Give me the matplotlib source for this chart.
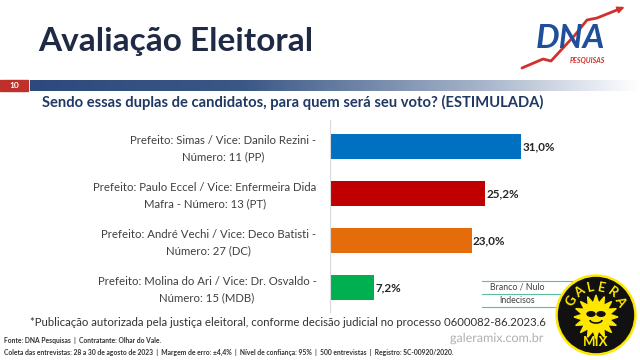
import numpy as np
import matplotlib.pyplot as plt
from matplotlib.colors import LinearSegmentedColormap
from matplotlib.patches import Circle, Polygon, Ellipse, Rectangle, Arc
import matplotlib.patheffects as pe

plt.rcParams['font.family'] = ['Lato', 'DejaVu Sans']

# data
labels = ["Prefeito: Simas / Vice: Danilo Rezini -\nNúmero: 11 (PP)",
          "Prefeito: Paulo Eccel / Vice: Enfermeira Dida\nMafra - Número: 13 (PT)",
          "Prefeito: André Vechi / Vice: Deco Batisti -\nNúmero: 27 (DC)",
          "Prefeito: Molina do Ari / Vice: Dr. Osvaldo -\nNúmero: 15 (MDB)"]
values = [31.0, 25.2, 23.0, 7.2]
colors = ["#0070C0", "#C00000", "#E46C0A", "#00B050"]
extra_rows = ["Branco / Nulo", "Indecisos"]

W, H = 640, 360
fig = plt.figure(figsize=(6.4, 3.6), dpi=100)
fig.patch.set_facecolor("white")

# bar chart axes (pixel layout)
ax = fig.add_axes([330 / W, 1 - 312 / H, 310 / W, 192 / H])
ax.patch.set_alpha(0)
y = np.arange(len(values))
ax.barh(y, values, height=0.53, color=colors)
ax.set_xlim(0, 310 / 6.16)
ax.set_ylim(3.52, -0.57)
for s in ["top", "right", "bottom"]:
    ax.spines[s].set_visible(False)
ax.spines["left"].set_color("#D9D9D9")
ax.set_xticks([])
ax.set_yticks([])
for yi, lab in zip(y, labels):
    ax.text(-2.2, yi + 0.04, lab, fontsize=8.2, color="#404040", ha="right", va="center",
            multialignment="center", linespacing=1.6)
for yi, v in zip(y, values):
    ax.text(v + 0.2, yi, f"{v:.1f}%".replace(".", ","), va="center", ha="left",
            fontsize=8.4, fontweight="bold", color="#262626")

# overlay for the slide decorations
ov = fig.add_axes([0, 0, 1, 1], zorder=3)
ov.patch.set_alpha(0)
ov.axis("off")

ov.text(38, 41, "Avaliação Eleitoral", fontsize=24, color="#1F2A44",
        va="center", ha="left", fontweight="bold")

# DNA logo
ov.plot([522, 543, 551, 575, 587, 597, 622], [68, 59, 61, 35, 20, 18, 8],
        color="#D0312D", lw=2.0, solid_capstyle="round", zorder=2)
ov.annotate("", xy=(627, 6), xytext=(615, 11),
            arrowprops=dict(arrowstyle="-|>", color="#D0312D", lw=1.2))
ov.text(570, 38, "DNA", fontsize=24, fontweight="bold", style="italic",
        color="#1F4E9A", va="center", ha="center", zorder=3)
ov.text(605, 60, "PESQUISAS", fontsize=5, fontweight="bold", style="italic",
        color="#D0312D", va="center", ha="right")

# page number box and gradient band
ov.add_patch(Rectangle((0, 80), 28, 11, color="#C0302B"))
ov.text(14, 85.5, "10", fontsize=6, color="white", fontweight="bold", ha="center", va="center")
cmap = LinearSegmentedColormap.from_list("band", [(0, "#2C4A7C"), (0.35, "#3A5886"),
                                                  (0.75, "#A9B6CB"), (1, "#FFFFFF")])
ov.imshow(np.linspace(0, 1, 256)[None, :], cmap=cmap, aspect="auto",
          extent=[30, 640, 91, 80], zorder=1)
ov.set_xlim(0, W)
ov.set_ylim(H, 0)

ov.text(42, 102, "Sendo essas duplas de candidatos, para quem será seu voto? (ESTIMULADA)",
        fontsize=10.6, fontweight="bold", color="#1F3864", va="center", ha="left")

# small table at bottom right
for yy in [281, 294, 307]:
    ov.plot([482, 580], [yy, yy], color="#5BBFA0", lw=0.8)
ov.text(517, 287.5, extra_rows[0], fontsize=6.3, color="#404040", ha="center", va="center")
ov.text(517, 300.5, extra_rows[1], fontsize=6.3, color="#404040", ha="center", va="center")

# footnotes
ov.text(30, 323, "*Publicação autorizada pela justiça eleitoral, conforme decisão judicial no processo 0600082-86.2023.6",
        fontsize=8.2, color="#333333", ha="left", va="center")
ov.text(4, 340, "Fonte: DNA Pesquisas  |  Contratante: Olhar do Vale.",
        fontsize=4.9, fontweight="bold", color="#333333", ha="left", va="center")
ov.text(4, 352, "Coleta das entrevistas: 28 a 30 de agosto de 2023  |  Margem de erro: ±4,4%  |  "
        "Nível de confiança: 95%  |  500 entrevistas  |  Registro: SC-00920/2020.",
        fontsize=4.9, fontweight="bold", color="#333333", ha="left", va="center")
ov.text(497, 338, "galeramix.com.br", fontsize=9, color="#B0B0B0", ha="center", va="center",
        path_effects=[pe.withStroke(linewidth=1.5, foreground="white")])

# GALERA MIX badge
cx, cy = 596, 315
ov.add_patch(Circle((cx, cy), 40, color="#FFE800", zorder=5))
ov.add_patch(Circle((cx, cy), 37.5, color="#111111", zorder=6))
n = 16
ang = np.linspace(0, 2 * np.pi, 2 * n, endpoint=False)
rad = np.where(np.arange(2 * n) % 2 == 0, 22, 14)
ov.add_patch(Polygon(np.column_stack([cx + rad * np.cos(ang), cy + 2 - rad * np.sin(ang)]),
                     color="#FFE800", zorder=7))
ov.add_patch(Ellipse((cx - 5, cy - 1), 8, 4.5, color="#111111", zorder=8))
ov.add_patch(Ellipse((cx + 5, cy - 1), 8, 4.5, color="#111111", zorder=8))
ov.add_patch(Arc((cx, cy + 5), 12, 6, theta1=0, theta2=180, color="#111111", lw=1.2, zorder=8))
for i, ch in enumerate("GALERA"):
    th = np.radians(150 - i * 24)
    ov.text(cx + 28 * np.cos(th), cy - 28 * np.sin(th), ch, fontsize=9.5, fontweight="bold",
            color="#FFE800", ha="center", va="center", rotation=np.degrees(th) - 90, zorder=9)
ov.text(cx, cy + 27, "MIX", fontsize=9.5, fontweight="bold", color="#FFE800",
        ha="center", va="center", zorder=9)

fig.savefig("out.png", dpi=100)
